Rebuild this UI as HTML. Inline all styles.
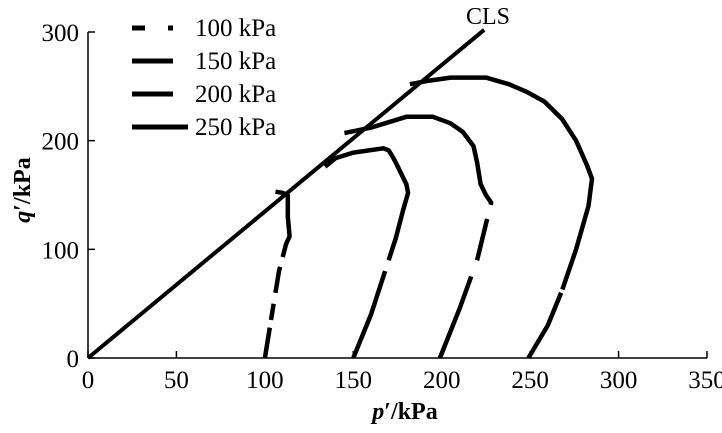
<!DOCTYPE html>
<html><head><meta charset="utf-8"><style>
body{margin:0;background:#fff}
svg text{font-family:"Liberation Serif",serif;fill:#000}
</style></head><body>
<svg id="c" width="722" height="428"></svg>
<script>
const xTicks=[0,50,100,150,200,250,300,350];
const yTicks=[0,100,200,300];
const seriesNames=["100 kPa","150 kPa","200 kPa","250 kPa"];
const s100=[[100,0],[104,40],[108,80],[112,105],[114,112],[113,130],[113,150],[110,152],[106,153]];
const s150=[[150,0],[160,40],[168,80],[174,110],[178,135],[181,152],[180,160],[177,170],[174,180],[172,186],[170,191],[167,193],[150,189],[140,184],[134,176]];
const s200=[[199,0],[210,45],[220,90],[226,130],[228,143],[225,150],[222,160],[220,180],[218,195],[212,208],[205,216],[195,222],[180,222],[168,216],[160,212],[145,207]];
const s250=[[249,0],[260,30],[268,62],[276,100],[283,140],[285,165],[282,178],[276,200],[268,220],[258,236],[248,245],[238,252],[225,258],[205,258],[192,255],[182,252]];
const cls=[[0,0],[224,302]];
const gaps=[[[28,35],[50,60],[84,93]],[[80,90]],[[75,90],[128,141]],[[60,63]]];
const X=v=>88+v*(619/350), Y=v=>358-v*(326/300);
const svg=document.getElementById('c'), NS='http://www.w3.org/2000/svg';
function mk(t,a,p){const e=document.createElementNS(NS,t);for(const k in a)e.setAttribute(k,a[k]);(p||svg).appendChild(e);return e;}
let e=mk('line',{x1:88,y1:358,x2:707,y2:358,stroke:'#000','stroke-width':1.5});


e=mk('line',{x1:88,y1:358,x2:88,y2:32,stroke:'#000','stroke-width':1.5});


xTicks.forEach(v=>{mk('line',{x1:X(v),y1:358,x2:X(v),y2:351,stroke:'#000','stroke-width':1.5});
 const t=mk('text',{x:X(v),y:388,'font-size':25,'text-anchor':'middle'});t.textContent=v;
 
 });
yTicks.forEach(v=>{mk('line',{x1:88,y1:Y(v),x2:95,y2:Y(v),stroke:'#000','stroke-width':1.5});
 const t=mk('text',{x:79,y:Y(v)+9,'font-size':25,'text-anchor':'end'});t.textContent=v;
 
 });
e=mk('text',{x:405,y:419,'font-size':24,'text-anchor':'middle','font-weight':'bold'});
e.innerHTML='<tspan font-style="italic">p</tspan>′/kPa';


e=mk('text',{x:0,y:0,'font-size':24,'text-anchor':'middle','font-weight':'bold',transform:'translate(30,190) rotate(-90)'});
e.innerHTML='<tspan font-style="italic">q</tspan>′/kPa';


const path=d=>d.map((p,i)=>(i?'L':'M')+X(p[0]).toFixed(1)+','+Y(p[1]).toFixed(1)).join('');
e=mk('path',{d:path(cls),stroke:'#000','stroke-width':4,fill:'none'});


e=mk('text',{x:488,y:24,'font-size':24,'text-anchor':'middle'});e.textContent='CLS';


// length along path (rising branch) at which q reaches value
function lenAt(s,q){let L=0;for(let i=1;i<s.length;i++){const a=s[i-1],b=s[i];
 const dx=X(b[0])-X(a[0]),dy=Y(b[1])-Y(a[1]),l=Math.hypot(dx,dy);
 if(b[1]>=q){const f=(q-a[1])/(b[1]-a[1]);return L+l*f;}L+=l;}return L;}
const all=[s100,s150,s200,s250];
const names=['series-100kpa','series-150kpa','series-200kpa','series-250kpa'];
all.forEach((s,i)=>{const arr=[];let pos=0;
 gaps[i].forEach(g=>{const a=lenAt(s,g[0]),b=lenAt(s,g[1]);arr.push(a-pos,b-a);pos=b;});
 arr.push(5000,0);
 const p=mk('path',{d:path(s),stroke:'#000','stroke-width':4.5,fill:'none','stroke-dasharray':arr.map(v=>v.toFixed(1)).join(','),'stroke-linejoin':'round'});
 
 });
seriesNames.forEach((n,i)=>{const y=[28,61,94,127][i];
 const g=mk('g',{});
 
 
 mk('line',{x1:132,y1:y,x2:i==3?188:173,y2:y,stroke:'#000','stroke-width':5,'stroke-dasharray':i==0?'13,23':'none'},g);
 const t=mk('text',{x:195,y:y+8,'font-size':25},g);t.textContent=n;});
</script>
</body></html>
